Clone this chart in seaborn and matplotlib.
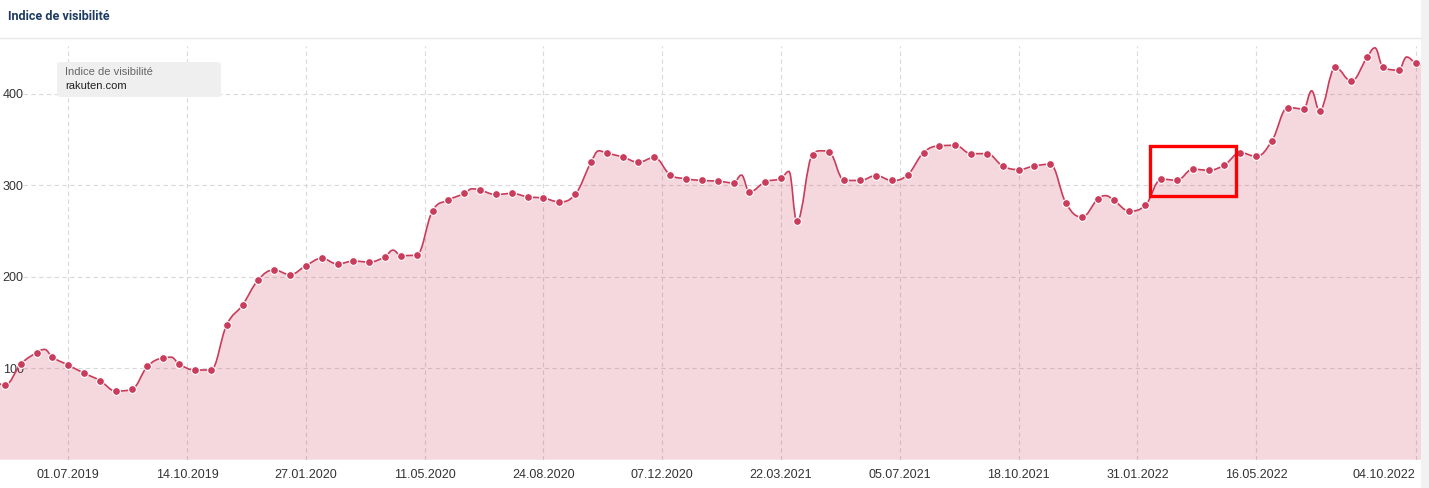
import numpy as np
import pandas as pd
import seaborn as sns
import matplotlib.pyplot as plt
import matplotlib.dates as mdates
from matplotlib.path import Path
from matplotlib.patches import PathPatch, FancyBboxPatch, Rectangle

# biweekly values with a marker (06.05.2019 ... 19.09.2022, then 04.10.2022)
marked_dates = list(pd.date_range("2019-05-06", periods=89, freq="14D")) + [pd.Timestamp("2022-10-04")]
marked_values = [
    81.5, 104.4, 117, 112, 103.3, 94.5, 86.5, 75, 76.7, 102,
    111, 104.4, 98, 98, 147.3, 169, 196.7, 207.3, 202.2, 212,
    220, 213.8, 217, 216, 221.8, 223, 223.6, 272, 283.6, 291,
    294.5, 289.8, 290.9, 287.3, 285.8, 281.8, 289.8, 325, 334.9, 330.9,
    325, 330.2, 311.3, 306.9, 305.1, 304.4, 302.5, 292.7, 303.6, 307.3,
    260.4, 333.1, 336.7, 305.1, 305.1, 310.5, 305.1, 311.3, 335.6, 342.9,
    343.5, 334.4, 334.4, 321, 317, 321, 322.8, 280, 265.2, 284.8,
    283.7, 271.7, 277.9, 306.5, 305.4, 317.4, 316.3, 322.1, 335.5, 331.5,
    348.6, 384.8, 383.3, 381.5, 428.6, 413.8, 439.5, 428.6, 425.7, 433.3,
]

# weekly values in between that have no marker
hidden_dates = ["2019-04-29", "2019-06-10", "2019-09-30", "2020-04-13", "2020-06-22",
                "2020-10-12", "2021-02-15", "2021-03-29", "2021-04-26", "2022-01-03",
                "2022-07-04", "2022-08-29", "2022-09-26", "2022-10-11"]
hidden_values = [84, 120.5, 112, 229, 296, 337.5, 311, 315, 337.5, 288.5, 403, 450, 440, 431]

tick_dates = ["2019-07-01", "2019-10-14", "2020-01-27", "2020-05-11", "2020-08-24", "2020-12-07",
              "2021-03-22", "2021-07-05", "2021-10-18", "2022-01-31", "2022-05-16", "2022-10-04"]
y_ticks = [100, 200, 300, 400]

# red box drawn on the screenshot
box_dates = ["2022-02-11", "2022-04-28"]
box_values = [288, 343]

LINE = "#c93c5b"

df = pd.DataFrame({"date": pd.to_datetime(marked_dates), "value": marked_values})
df_all = pd.concat([df, pd.DataFrame({"date": pd.to_datetime(hidden_dates), "value": hidden_values})])
df_all = df_all.sort_values("date").reset_index(drop=True)


def spline_path(xs, ys, smoothing=1.5):
    # bezier control points like a highcharts spline
    n = len(xs)
    den = smoothing + 1
    lcx, lcy = list(xs), list(ys)
    rcx, rcy = list(xs), list(ys)
    for i in range(1, n - 1):
        lx, ly = xs[i - 1], ys[i - 1]
        px, py = xs[i], ys[i]
        nx, ny = xs[i + 1], ys[i + 1]
        a_x = (smoothing * px + lx) / den
        a_y = (smoothing * py + ly) / den
        b_x = (smoothing * px + nx) / den
        b_y = (smoothing * py + ny) / den
        corr = ((b_y - a_y) * (b_x - px)) / (b_x - a_x) + py - b_y
        a_y += corr
        b_y += corr
        if a_y > ly and a_y > py:
            a_y = max(ly, py); b_y = 2 * py - a_y
        elif a_y < ly and a_y < py:
            a_y = min(ly, py); b_y = 2 * py - a_y
        if b_y > ny and b_y > py:
            b_y = max(ny, py); a_y = 2 * py - b_y
        elif b_y < ny and b_y < py:
            b_y = min(ny, py); a_y = 2 * py - b_y
        lcx[i], lcy[i], rcx[i], rcy[i] = a_x, a_y, b_x, b_y
    verts = [(xs[0], ys[0])]
    codes = [Path.MOVETO]
    for i in range(1, n):
        verts += [(rcx[i - 1], rcy[i - 1]), (lcx[i], lcy[i]), (xs[i], ys[i])]
        codes += [Path.CURVE4] * 3
    return verts, codes


sns.set_theme(style="white")
plt.rcParams["font.family"] = ["Liberation Sans", "DejaVu Sans"]

fig = plt.figure(figsize=(14.29, 4.88), dpi=100)
ax = fig.add_axes([0, 0.058, 1421 / 1429, 0.8477])

xs = mdates.date2num(df_all["date"])
ys = df_all["value"].to_numpy(float)
verts, codes = spline_path(list(xs), list(ys))

fill_verts = verts + [(xs[-1], 0), (xs[0], 0), (xs[0], ys[0])]
fill_codes = codes + [Path.LINETO, Path.LINETO, Path.CLOSEPOLY]
ax.add_patch(PathPatch(Path(fill_verts, fill_codes), facecolor=LINE, alpha=0.2, lw=0, zorder=1))
ax.add_patch(PathPatch(Path(verts, codes), facecolor="none", edgecolor=LINE, lw=1.2, zorder=2))

sns.scatterplot(data=df, x="date", y="value", ax=ax, color=LINE, s=32,
                edgecolor="white", linewidth=0.8, zorder=3, legend=False)

ax.set_xlim(pd.Timestamp("2019-05-01 15:00"), pd.Timestamp("2022-10-08 17:00"))
ax.set_ylim(0, 452)

ticks = pd.to_datetime(tick_dates)
ax.set_xticks(ticks)
ax.set_xticklabels([t.strftime("%d.%m.%Y") for t in ticks])
ax.set_yticks(y_ticks)
ax.set_yticklabels([str(v) for v in y_ticks])
for lab in ax.get_yticklabels():
    lab.set_horizontalalignment("left")
ax.get_xticklabels()[-1].set_horizontalalignment("right")
ax.tick_params(axis="x", length=0, pad=7, labelsize=9, colors="#333333")
ax.tick_params(axis="y", length=0, pad=-2, labelsize=9, colors="#333333")
ax.set_xlabel("")
ax.set_ylabel("")
for s in ax.spines.values():
    s.set_visible(False)

ax.set_axisbelow(True)
ax.grid(axis="x", color="#d9d9d9", lw=0.8, ls=(0, (4, 3)))
for v in y_ticks:
    ax.axhline(v, xmin=23 / 1421, color="#d9d9d9", lw=0.8, ls=(0, (4, 3)), zorder=0.5)

bx = pd.to_datetime(box_dates)
ax.add_patch(Rectangle((mdates.date2num(bx[0]), box_values[0]),
                       mdates.date2num(bx[1]) - mdates.date2num(bx[0]),
                       box_values[1] - box_values[0],
                       fill=False, edgecolor="#ff0000", lw=2.4, zorder=5))

# header, card border and legend box
W, H = 1429, 488
fig.text(8 / W, 1 - 17 / H, "Indice de visibilité", fontsize=9, fontweight="bold",
         color="#1d3b63", family=["Roboto", "DejaVu Sans"], va="center", ha="left")
fig.add_artist(plt.Line2D([0, 1421 / W], [1 - 38 / H, 1 - 38 / H], color="#e8e8e8", lw=1))
fig.add_artist(Rectangle((1421 / W, 0), 8 / W, 1, transform=fig.transFigure,
                         facecolor="#f2f2f2", edgecolor="none", zorder=-1))
fig.add_artist(FancyBboxPatch((57 / W, 1 - 97 / H), 164 / W, 35 / H,
                              boxstyle="round,pad=0,rounding_size=0.004",
                              transform=fig.transFigure, facecolor="#efefef",
                              edgecolor="none", zorder=6))
fig.text(65 / W, 1 - 72 / H, "Indice de visibilité", fontsize=8, color="#666666",
         va="center", ha="left", zorder=7)
fig.text(65 / W, 1 - 86 / H, "rakuten.com", fontsize=8, color="#222222",
         va="center", ha="left", zorder=7)

fig.savefig("out.png", dpi=100)
